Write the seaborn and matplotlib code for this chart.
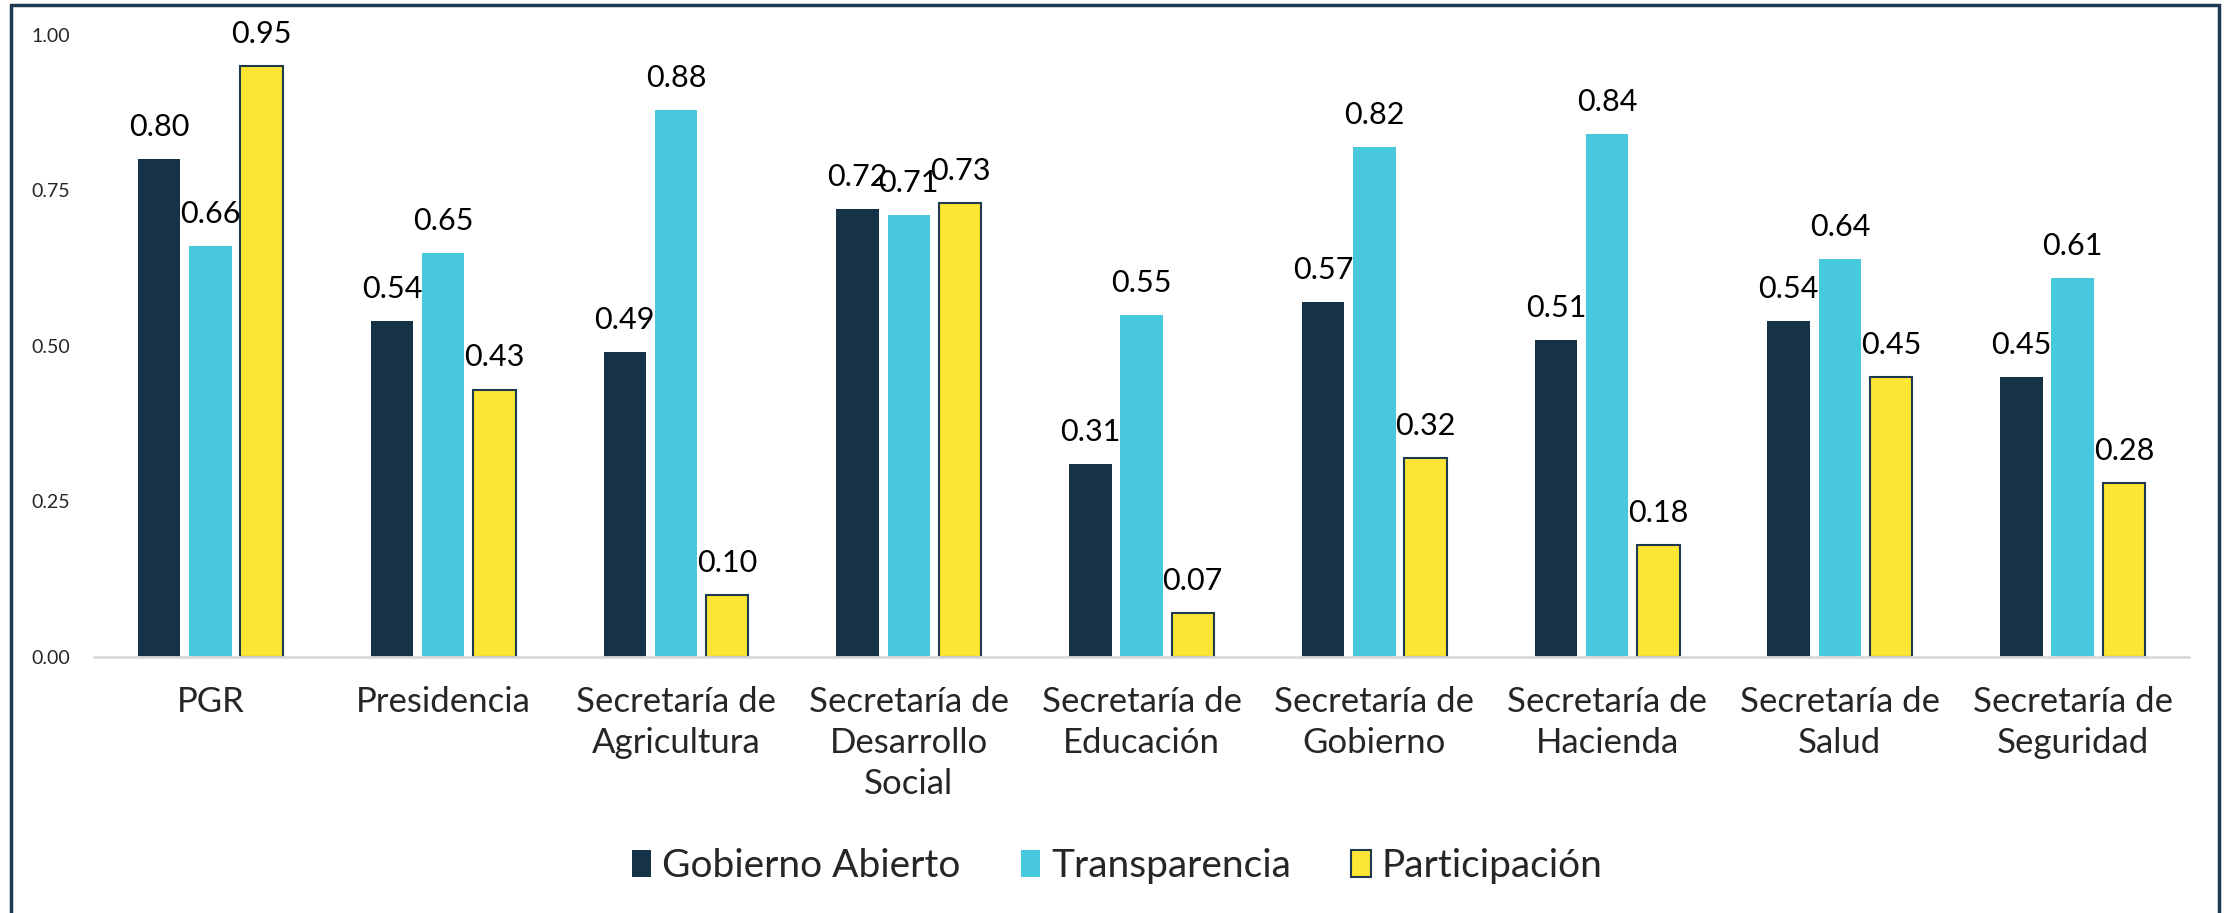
import numpy as np
import pandas as pd
import matplotlib
matplotlib.use("Agg")
import matplotlib.pyplot as plt
from matplotlib.patches import Rectangle
import seaborn as sns

# datos
dependencias = ["PGR", "Presidencia", "Secretaría de\nAgricultura",
                "Secretaría de\nDesarrollo\nSocial", "Secretaría de\nEducación",
                "Secretaría de\nGobierno", "Secretaría de\nHacienda",
                "Secretaría de\nSalud", "Secretaría de\nSeguridad"]
gobierno_abierto = [0.80, 0.54, 0.49, 0.72, 0.31, 0.57, 0.51, 0.54, 0.45]
transparencia = [0.66, 0.65, 0.88, 0.71, 0.55, 0.82, 0.84, 0.64, 0.61]
participacion = [0.95, 0.43, 0.10, 0.73, 0.07, 0.32, 0.18, 0.45, 0.28]
series = ["Gobierno Abierto", "Transparencia", "Participación"]
colores = ["#163247", "#48C8DD", "#FDE533"]

df = pd.DataFrame({
    "Dependencia": dependencias * 3,
    "Indice": np.repeat(series, len(dependencias)),
    "Valor": gobierno_abierto + transparencia + participacion,
})

sns.set_style("white")
plt.rcParams["font.family"] = ["Lato", "DejaVu Sans"]

fig = plt.figure(figsize=(22.34, 9.13), dpi=100)
ax = fig.add_axes([0.0421, 0.2804, 0.9378, 0.6813])

sns.barplot(data=df, x="Dependencia", y="Valor", hue="Indice",
            hue_order=series, palette=colores, width=0.66, gap=0.17,
            saturation=1, errorbar=None, ax=ax)

# borde oscuro solo en las barras amarillas
for p in ax.containers[2]:
    p.set_edgecolor("#1F3A50")
    p.set_linewidth(1.5)
for c in ax.containers[:2]:
    for p in c:
        p.set_edgecolor("none")

for c in ax.containers:
    ax.bar_label(c, fmt="%.2f", padding=13, fontsize=22, color="black")

ax.set_ylim(0, 1)
ax.set_xlim(-0.5, len(dependencias) - 0.5)
ax.set_yticks([0, 0.25, 0.5, 0.75, 1.0])
ax.set_yticklabels(["0.00", "0.25", "0.50", "0.75", "1.00"])
ax.tick_params(axis="y", length=0, pad=17, labelsize=14)
ax.tick_params(axis="x", length=0, pad=21, labelsize=25)
for t in ax.get_xticklabels():
    t.set_linespacing(1.35)
    t.set_verticalalignment("top")
ax.set_xlabel("")
ax.set_ylabel("")
for s in ["top", "right", "left"]:
    ax.spines[s].set_visible(False)
ax.spines["bottom"].set_color("#D9D9D9")
ax.spines["bottom"].set_linewidth(2)

ax.get_legend().remove()
handles = [Rectangle((0, 0), 1, 1, facecolor=colores[0], edgecolor="none"),
           Rectangle((0, 0), 1, 1, facecolor=colores[1], edgecolor="none"),
           Rectangle((0, 0), 1, 1, facecolor=colores[2], edgecolor="#1F3A50", linewidth=1.5)]
fig.legend(handles, series, loc="center", bbox_to_anchor=(0.5, 1 - 866 / 913),
           ncol=3, frameon=False, fontsize=28, handlelength=0.5, handleheight=0.67,
           handletextpad=0.28, columnspacing=1.55)

# marco del grafico
fig.patches.append(Rectangle((11 / 2234, -0.05), (2219 - 11) / 2234, 1.05 - 5 / 913,
                             transform=fig.transFigure, fill=False,
                             edgecolor="#1F3A50", linewidth=2.5))

fig.savefig("out.png", dpi=100)
